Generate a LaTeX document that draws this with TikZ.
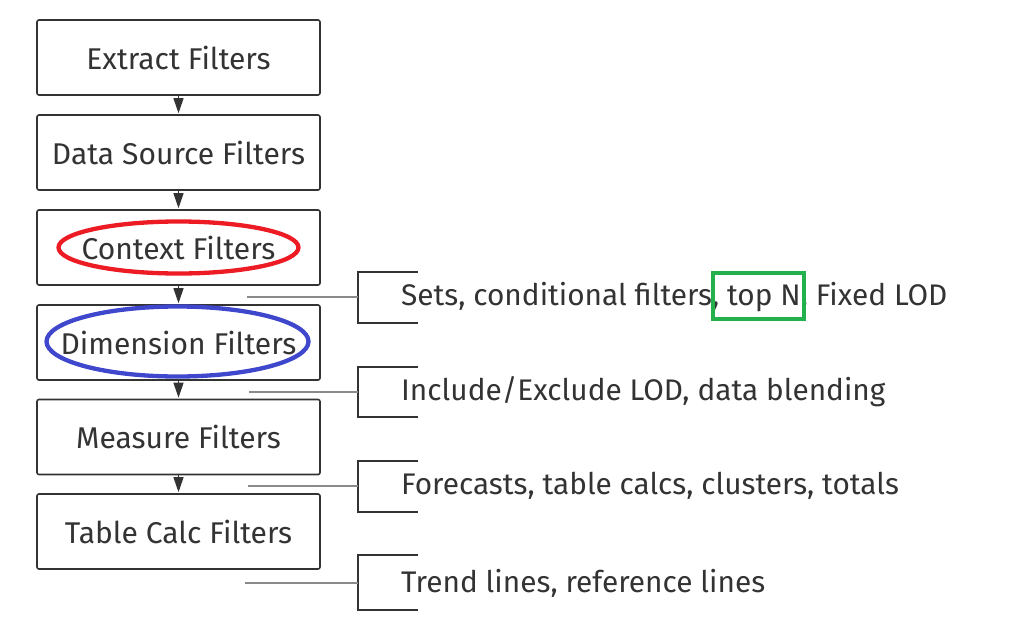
\documentclass[tikz,border=0pt]{standalone}
\usepackage{fontspec}
\setmainfont{Fira Sans}
\usetikzlibrary{arrows.meta}
\definecolor{ink}{HTML}{333333}
\definecolor{conn}{HTML}{8A8A8A}
\definecolor{hred}{HTML}{ED1C24}
\definecolor{hblue}{HTML}{3F48CC}
\definecolor{hgreen}{HTML}{22B14C}
\tikzset{
  stage/.style={draw=ink, line width=1.6pt, rounded corners=2pt, minimum width=283pt, minimum height=75pt, inner sep=0pt, text=ink, font=\fontsize{30}{32}\selectfont},
  flow/.style={draw=ink, line width=1.2pt, -{Triangle[width=10pt,length=15pt]}, shorten >=1pt},
  bracket/.style={draw=ink, line width=1.6pt},
  feed/.style={draw=conn, line width=1.2pt},
  note/.style={anchor=west, inner sep=0pt, text=ink, font=\fontsize{29.8}{32}\selectfont},
  mark ring/.style={line width=4.3pt},
}
\begin{document}
\begin{tikzpicture}[x=1pt,y=-1pt]
\useasboundingbox (0,0) rectangle (1017,632);
\node[stage] (b1) at (178.5,57.5) {Extract Filters};
\node[stage] (b2) at (178.5,152.5) {Data Source Filters};
\node[stage] (b3) at (178.5,247.5) {Context Filters};
\node[stage] (b4) at (178.5,342.5) {Dimension Filters};
\node[stage] (b5) at (178.5,437) {Measure Filters};
\node[stage] (b6) at (178.5,531.5) {Table Calc Filters};
\draw[flow] (b1.south) -- (b2.north);
\draw[flow] (b2.south) -- (b3.north);
\draw[flow] (b3.south) -- (b4.north);
\draw[flow] (b4.south) -- (b5.north);
\draw[flow] (b5.south) -- (b6.north);
% brackets
\foreach \i/\ym/\yt/\yb/\xs in {1/297/272/323/247, 2/392/367/417/249, 3/486/461/512/248, 4/583/555/610/245}{
  \coordinate (s\i) at (\xs,\ym);
  \coordinate (m\i) at (358,\ym);
  \draw[bracket] (418,\yt) -- (358,\yt) -- (358,\yb) -- (418,\yb);
  \draw[feed] (s\i) -- (m\i);
}
\node[note] (n1) at (401,297) {Sets, conditional filters, top N, Fixed LOD};
\node[note] (n2) at (401,392) {Include/Exclude LOD, data blending};
\node[note] (n3) at (401,486) {Forecasts, table calcs, clusters, totals};
\node[note] (n4) at (401,583) {Trend lines, reference lines};
% highlights
\draw[mark ring, draw=hred] (b3.center) ellipse [x radius=120, y radius=26];
\draw[mark ring, draw=hblue] (177.5,341.5) ellipse [x radius=131, y radius=35];
\node[draw=hgreen, line width=3.5pt, fill=none, minimum width=91pt, minimum height=46pt, inner sep=0pt] (g) at (758.5,296) {};
\end{tikzpicture}
\end{document}
